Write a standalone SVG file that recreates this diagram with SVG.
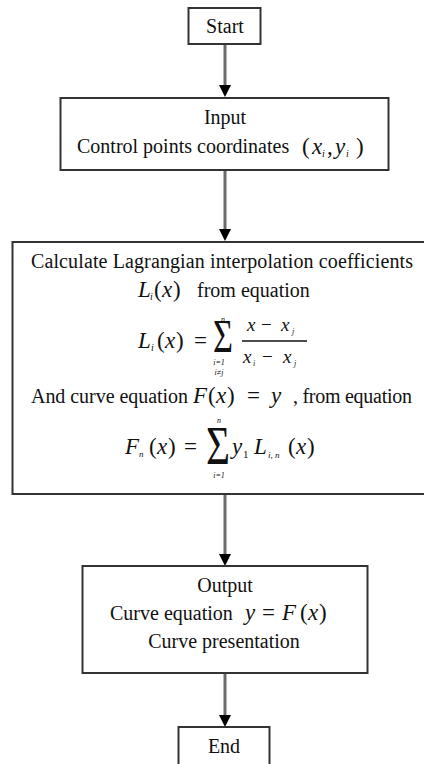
<svg xmlns="http://www.w3.org/2000/svg" width="424" height="764" viewBox="0 0 424 764">
<style>
.box{fill:#fff;stroke:#333;stroke-width:2}
.t{font-family:"Liberation Serif","Times New Roman",serif;font-size:20px;fill:#111}
.m{font-family:"Liberation Serif","Times New Roman",serif;font-size:23px;fill:#111}
.i{font-style:italic}
.s{font-family:"Liberation Serif","Times New Roman",serif;font-size:10px;font-style:italic;fill:#111}
.c{text-anchor:middle}
.shaft{stroke:#6a6a6a;stroke-width:3;fill:none}
</style>
<defs>
<marker id="ah" markerUnits="userSpaceOnUse" markerWidth="12" markerHeight="12" refX="2" refY="6" orient="auto">
<path d="M0,0 L12,6 L0,12 Z" fill="#000"/>
</marker>
</defs>
<rect width="424" height="764" fill="#fff"/>
<g id="connectors">
<line class="shaft" x1="225" y1="44" x2="225" y2="87" marker-end="url(#ah)"/>
<line class="shaft" x1="225" y1="170" x2="225" y2="231" marker-end="url(#ah)"/>
<line class="shaft" x1="225" y1="494" x2="225" y2="556" marker-end="url(#ah)"/>
<line class="shaft" x1="225" y1="673" x2="225" y2="717" marker-end="url(#ah)"/>
</g>
<g id="start">
<rect class="box" x="188.5" y="8" width="72" height="36"/>
<text class="t c" x="225" y="33">Start</text>
</g>
<g id="input">
<rect class="box" x="60.5" y="98" width="328" height="72"/>
<text class="t c" x="225" y="124">Input</text>
<text class="t" x="77" y="153">Control points coordinates</text>
<text class="m" x="302" y="154">(</text>
<text class="m i" x="312" y="154">x</text>
<text class="s" x="322" y="157">i</text>
<text class="m" x="327" y="154">,</text>
<text class="m i" x="335" y="154">y</text>
<text class="s" x="346" y="157">i</text>
<text class="m" x="356" y="154">)</text>
</g>
<g id="calculate">
<rect class="box" x="12.5" y="242" width="420" height="252"/>
<text class="t" x="31" y="267.5" textLength="382" lengthAdjust="spacing">Calculate Lagrangian interpolation coefficients</text>
<text class="m i" x="138" y="297">L</text>
<text class="s" x="150" y="300">i</text>
<text class="m" x="154" y="297">(</text>
<text class="m i" x="162" y="297">x</text>
<text class="m" x="173" y="297">)</text>
<text class="t" x="197" y="297">from equation</text>
<!-- equation 1 -->
<text class="m i" x="138" y="348">L</text>
<text class="s" x="151" y="351">i</text>
<text class="m" x="157" y="348">(</text>
<text class="m i" x="165" y="348">x</text>
<text class="m" x="176" y="348">)</text>
<text class="m" x="194" y="348">=</text>
<text class="m c" x="223" y="352" style="font-size:46px" textLength="20" lengthAdjust="spacingAndGlyphs">Σ</text>
<text class="s c" x="223" y="322" style="font-size:8px">n</text>
<text class="s c" x="219" y="365" style="font-size:8px">i=1</text>
<text class="s c" x="219" y="375" style="font-size:8px">i≠j</text>
<line x1="242" y1="341" x2="307" y2="341" stroke="#111" stroke-width="1.3"/>
<text class="m i" x="247" y="331" style="font-size:19px">x</text>
<text class="m" x="261" y="331" style="font-size:19px">−</text>
<text class="m i" x="281" y="331" style="font-size:19px">x</text>
<text class="s" x="292" y="334" style="font-size:8px">j</text>
<text class="m i" x="243" y="363" style="font-size:19px">x</text>
<text class="s" x="253" y="366" style="font-size:8px">i</text>
<text class="m" x="262" y="363" style="font-size:19px">−</text>
<text class="m i" x="283" y="363" style="font-size:19px">x</text>
<text class="s" x="294" y="366" style="font-size:8px">j</text>
<!-- and curve equation -->
<text class="t" x="31" y="403" textLength="157" lengthAdjust="spacing">And curve equation</text>
<text class="m i" x="193" y="403">F</text>
<text class="m" x="208" y="403">(</text>
<text class="m i" x="216" y="403">x</text>
<text class="m" x="227" y="403">)</text>
<text class="m" x="247" y="403">=</text>
<text class="m i" x="271" y="403">y</text>
<text class="t" x="293" y="403" textLength="119" lengthAdjust="spacing">, from equation</text>
<!-- equation 2 -->
<text class="m i" x="125" y="454">F</text>
<text class="s" x="139" y="457" style="font-size:9px">n</text>
<text class="m" x="149" y="454">(</text>
<text class="m i" x="157" y="454">x</text>
<text class="m" x="168" y="454">)</text>
<text class="m" x="184" y="454">=</text>
<text class="m c" x="218" y="464" style="font-size:54px" textLength="24" lengthAdjust="spacingAndGlyphs">Σ</text>
<text class="s c" x="219" y="423" style="font-size:8px">n</text>
<text class="s c" x="219" y="478" style="font-size:8px">i=1</text>
<text class="m i" x="232" y="454">y</text>
<text class="t" x="243" y="458" style="font-size:11px">1</text>
<text class="m i" x="254" y="454">L</text>
<text class="s" x="268" y="458" style="font-size:9px">i, n</text>
<text class="m" x="288" y="454">(</text>
<text class="m i" x="296" y="454">x</text>
<text class="m" x="307" y="454">)</text>
</g>
<g id="output">
<rect class="box" x="82.5" y="566" width="285" height="107"/>
<text class="t c" x="225" y="592">Output</text>
<text class="t" x="110" y="620">Curve equation</text>
<text class="m i" x="245" y="620">y</text>
<text class="m" x="262" y="620">=</text>
<text class="m i" x="282" y="620">F</text>
<text class="m" x="300" y="620">(</text>
<text class="m i" x="308" y="620">x</text>
<text class="m" x="319" y="620">)</text>
<text class="t c" x="224" y="648">Curve presentation</text>
</g>
<g id="end">
<rect class="box" x="178.5" y="727" width="91" height="44"/>
<text class="t c" x="224" y="753">End</text>
</g>
</svg>
